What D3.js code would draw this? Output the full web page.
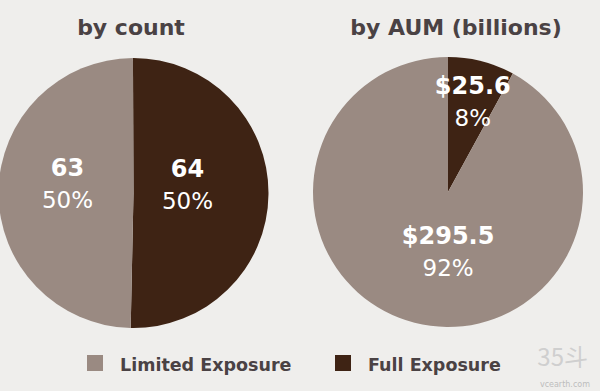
<!DOCTYPE html>
<html><head><meta charset="utf-8">
<script src="https://cdn.jsdelivr.net/npm/d3@7"></script>
<style>
html,body{margin:0;padding:0;background:#efeeec;}
svg{display:block;}
</style></head>
<body><svg id="c" width="600" height="391"></svg>
<script>
const categories = ["Limited Exposure", "Full Exposure"];
const countValues = [63, 64];
const countPct = ["50%", "50%"];
const aumValues = [295.5, 25.6];
const aumLabels = ["$295.5", "$25.6"];
const aumPct = ["92%", "8%"];
const titles = ["by count", "by AUM (billions)"];
const colors = ["#9a8a82", "#3e2314"];

const svg = d3.select("#c");
const W = 600, H = 391;
svg.append("rect").attr("width", W).attr("height", H).attr("fill", "#efeeec");

const font = "'DejaVu Sans', sans-serif";

function drawPie(cfg) {
  const R = cfg.r;
  const g = svg.append("g").attr("transform", `translate(${cfg.cx},${cfg.cy})`);
  const data = categories.map((c, i) => ({cat: c, v: cfg.values[i], top: cfg.top[i], pct: cfg.pct[i], i}));
  const ordered = [data[1], data[0]];
  const pie = d3.pie().value(d => d.v).sort(null).startAngle(cfg.start).endAngle(cfg.start + 2 * Math.PI);
  const arcs = pie(ordered);
  const arc = d3.arc().innerRadius(0).outerRadius(R);
  g.selectAll("path").data(arcs).join("path")
    .attr("d", arc).attr("fill", d => colors[d.data.i]);
  arcs.forEach(a => {
    const lr = cfg.labelR[a.data.i];
    const la = d3.arc().innerRadius(lr).outerRadius(lr);
    const [x, y] = la.centroid(a);
    const px = x + cfg.dx[a.data.i];
    const py = y + cfg.dy[a.data.i];
    g.append("text").attr("x", px).attr("y", py)
      .attr("text-anchor", "middle").attr("fill", "#ffffff")
      .attr("font-family", font).attr("font-weight", "bold").attr("font-size", 24)
      .text(a.data.top);
    g.append("text").attr("x", px).attr("y", py + 32)
      .attr("text-anchor", "middle").attr("fill", "#ffffff")
      .attr("font-family", font).attr("font-size", 23)
      .text(a.data.pct);
  });
  svg.append("text").attr("x", cfg.tx).attr("y", 35)
    .attr("text-anchor", "middle").attr("fill", "#4a4244")
    .attr("font-family", font).attr("font-size", 22).attr("font-weight", "bold")
    .text(cfg.title);
}

drawPie({cx: 133.5, cy: 193, r: 135, values: countValues, top: countValues.map(String), pct: countPct,
  start: -0.004, labelR: [66, 54], dx: [0, 0], dy: [-16, -16], title: titles[0], tx: 131});
drawPie({cx: 448, cy: 192, r: 135, values: aumValues, top: aumLabels, pct: aumPct,
  start: 0, labelR: [56, 100], dx: [14, 0], dy: [-2, -1], title: titles[1], tx: 456});

// legend
const leg = svg.append("g");
const legX = [87, 335];
categories.forEach((c, i) => {
  leg.append("rect").attr("x", legX[i]).attr("y", 355).attr("width", 16).attr("height", 16)
    .attr("fill", colors[i]);
  leg.append("text").attr("x", legX[i] + 33).attr("y", 371)
    .attr("fill", "#4a4244").attr("font-family", font).attr("font-weight", "bold").attr("font-size", 17.5)
    .text(c);
});

// watermark
svg.append("text").attr("x", 588).attr("y", 366).attr("text-anchor", "end")
  .attr("fill", "#cfcfcf").attr("font-family", "'Noto Sans CJK SC', sans-serif").attr("font-size", 24)
  .text("35斗");
svg.append("text").attr("x", 590).attr("y", 387).attr("text-anchor", "end")
  .attr("fill", "#bdbdbd").attr("font-family", "'DejaVu Sans', sans-serif").attr("font-size", 8)
  .text("vcearth.com");
</script></body></html>
